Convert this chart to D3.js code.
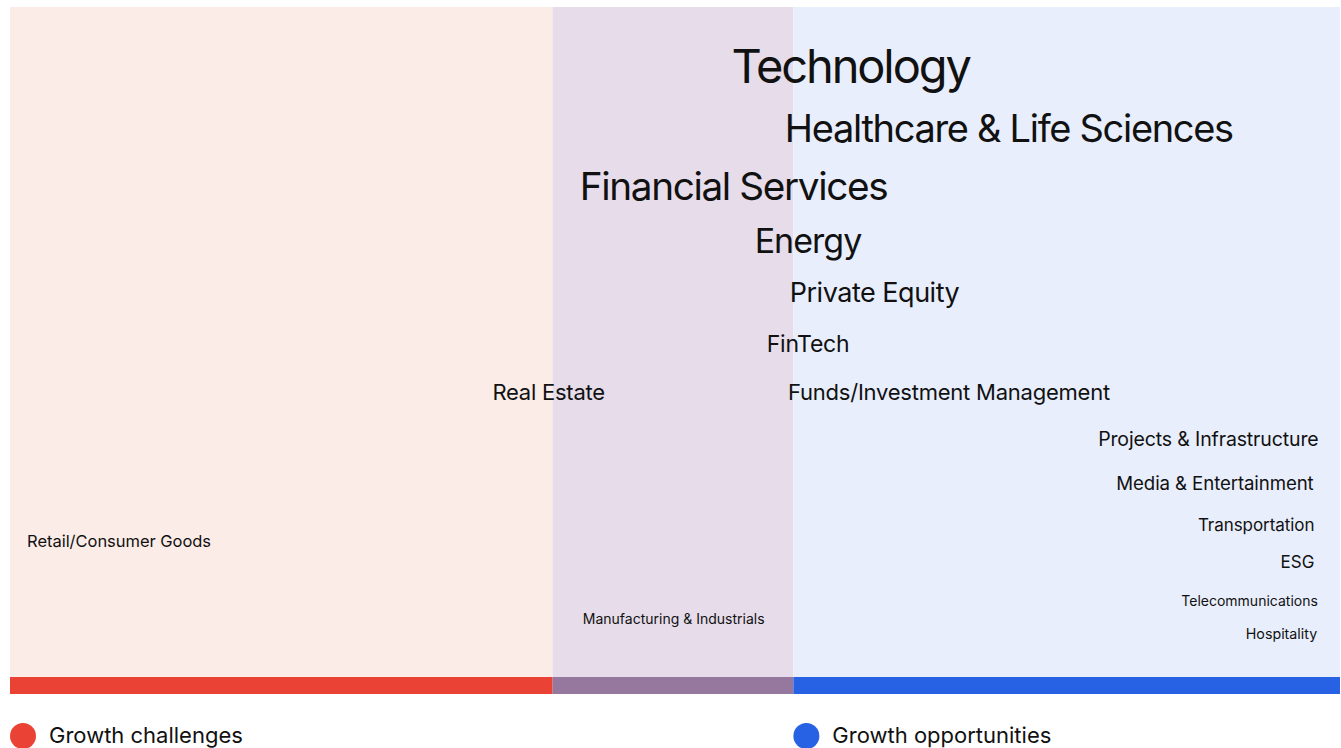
<!DOCTYPE html>
<meta charset="utf-8">
<title>Growth outlook by sector</title>
<script src="https://d3js.org/d3.v7.min.js"></script>
<style>
  body { margin: 0; background: #fff; }
  svg { display: block; font-family: Inter, "Noto Sans", sans-serif; }
</style>
<body>
<svg width="1341" height="748"></svg>

<script>
  // sectors, their outlook score (0 = challenges, 100 = opportunities),
  // their place in the list and how loud they were mentioned
  var sectors = ["Technology", "Healthcare & Life Sciences", "Financial Services", "Energy",
    "Private Equity", "FinTech", "Real Estate", "Funds/Investment Management",
    "Projects & Infrastructure", "Media & Entertainment", "Transportation", "ESG",
    "Retail/Consumer Goods", "Telecommunications", "Manufacturing & Industrials", "Hospitality"];
  var outlook = [63.2, 75.1, 54.4, 60.0, 65.0, 60.0, 40.5, 70.6, 90.1, 90.6, 93.7, 96.8, 8.2, 93.2, 49.9, 95.6];
  var rank = [11.3, 20.1, 28.8, 36.7, 44.0, 51.5, 58.7, 58.7, 65.5, 72.1, 78.2, 83.8, 80.6, 89.4, 92.1, 94.4];
  var mentions = [94, 76, 77.5, 68, 54, 46, 44, 44, 39, 37.3, 34, 34, 33, 28, 28, 28.5];

  // the three zones along the outlook axis
  var zoneNames = ["Growth challenges", "Mixed", "Growth opportunities"];
  var zoneBreaks = [0, 40.8, 58.9, 100];
  var zoneFill = ["#fbece8", "#e6dcea", "#e8eefc"];
  var zoneBar = ["#ea4335", "#96789e", "#2662e3"];
  var legendZones = [0, 2];

  var svg = d3.select("svg"),
    width = +svg.attr("width"),
    height = +svg.attr("height");

  var x = d3.scaleLinear().domain([0, 100]).range([10, 1340]);
  var y = d3.scaleLinear().domain([0, 100]).range([7, 677]);
  var size = d3.scaleLinear().domain([0, 100]).range([0, 50]);

  var zones = zoneNames.map(function (n, i) {
    return { name: n, x0: zoneBreaks[i], x1: zoneBreaks[i + 1], fill: zoneFill[i], bar: zoneBar[i] };
  });

  // background zones
  svg.append("g")
    .selectAll("rect")
    .data(zones)
    .enter().append("rect")
    .attr("x", function (d) { return x(d.x0); })
    .attr("width", function (d) { return x(d.x1) - x(d.x0); })
    .attr("y", y(0))
    .attr("height", y(100) - y(0))
    .attr("fill", function (d) { return d.fill; });

  // coloured strip under the zones
  svg.append("g")
    .selectAll("rect")
    .data(zones)
    .enter().append("rect")
    .attr("x", function (d) { return x(d.x0); })
    .attr("width", function (d) { return x(d.x1) - x(d.x0); })
    .attr("y", y(100))
    .attr("height", 17)
    .attr("fill", function (d) { return d.bar; });

  var data = sectors.map(function (s, i) {
    return { name: s, outlook: outlook[i], rank: rank[i], mentions: mentions[i] };
  });

  // sector labels, bigger = more mentions
  svg.append("g")
    .selectAll("text")
    .data(data)
    .enter().append("text")
    .attr("x", function (d) { return x(d.outlook); })
    .attr("y", function (d) { return y(d.rank); })
    .attr("text-anchor", "middle")
    .attr("fill", "#111")
    .style("font-size", function (d) { return size(d.mentions) + "px"; })
    .style("letter-spacing", function (d) {
      var s = size(d.mentions);
      return (-0.045 * Math.max(0, Math.min(1, (s - 15) / 30))) + "em";
    })
    .text(function (d) { return d.name; });

  // legend
  var legend = svg.append("g")
    .selectAll("g")
    .data(legendZones.map(function (i) { return zones[i]; }))
    .enter().append("g")
    .attr("transform", function (d) { return "translate(" + x(d.x0) + ",736)"; });

  legend.append("circle")
    .attr("cx", 13)
    .attr("r", 13)
    .attr("fill", function (d) { return d.bar; });

  legend.append("text")
    .attr("x", 39)
    .attr("y", 7)
    .attr("fill", "#111")
    .style("font-size", "22px")
    .text(function (d) { return d.name; });
</script>
</body>
